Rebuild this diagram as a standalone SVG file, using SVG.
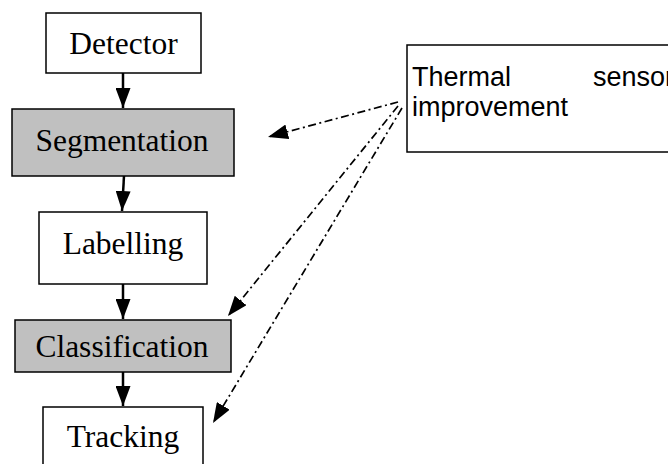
<svg xmlns="http://www.w3.org/2000/svg" width="668" height="464" viewBox="0 0 668 464">
<style>
.box{fill:#fff;stroke:#000;stroke-width:1.5}
.gray{fill:#c0c0c0;stroke:#000;stroke-width:1.5}
.t{font-family:"Liberation Serif","Times New Roman",serif;font-size:31.5px;fill:#000;text-anchor:middle}
.s{font-family:"Liberation Sans",Arial,sans-serif;font-size:27px;fill:#000}
.solid{stroke:#000;stroke-width:2.5;fill:none}
.dash{stroke:#000;stroke-width:1.7;fill:none;stroke-dasharray:8 3.5 2 3.5}
</style>
<defs>
<marker id="ah" markerWidth="20" markerHeight="15" refX="20" refY="7.5" orient="auto" markerUnits="userSpaceOnUse">
<path d="M0,0 L20,7.5 L0,15 Z" fill="#000"/>
</marker>
</defs>
<rect width="668" height="464" fill="#fff"/>
<g id="detector"><rect class="box" x="46" y="13" width="155" height="60"/><text class="t" x="123.5" y="54">Detector</text></g>
<g id="segmentation"><rect class="gray" x="12" y="109" width="222" height="67"/><text class="t" x="122" y="151">Segmentation</text></g>
<g id="labelling"><rect class="box" x="39" y="212" width="168" height="72"/><text class="t" x="123" y="254">Labelling</text></g>
<g id="classification"><rect class="gray" x="15" y="320" width="216" height="52"/><text class="t" x="122" y="357">Classification</text></g>
<g id="tracking"><rect class="box" x="43" y="407" width="160" height="70"/><text class="t" x="123" y="447">Tracking</text></g>
<g id="thermal"><rect class="box" x="407" y="45" width="280" height="107"/><text class="s" x="412" y="86">Thermal</text><text class="s" x="674" y="86" text-anchor="end">sensor</text><text class="s" x="412" y="116">improvement</text></g>
<g id="connectors">
<line class="solid" x1="123" y1="73" x2="123" y2="108" marker-end="url(#ah)"/>
<line class="solid" x1="124" y1="176" x2="122" y2="211" marker-end="url(#ah)"/>
<line class="solid" x1="123" y1="284" x2="123" y2="319" marker-end="url(#ah)"/>
<line class="solid" x1="123" y1="372" x2="123" y2="406" marker-end="url(#ah)"/>
<line class="dash" x1="398" y1="102" x2="268" y2="137" marker-end="url(#ah)"/>
<line class="dash" x1="398" y1="106" x2="228" y2="316" marker-end="url(#ah)"/>
<line class="dash" x1="402" y1="108" x2="213" y2="423" marker-end="url(#ah)"/>
</g>
</svg>
